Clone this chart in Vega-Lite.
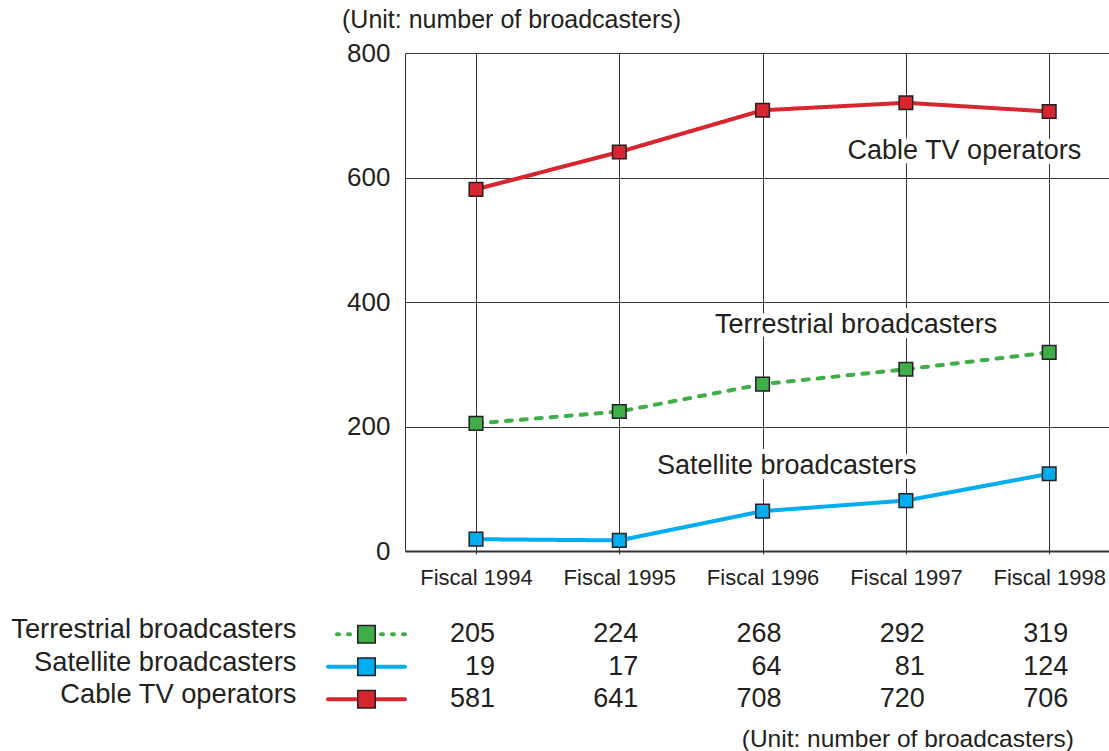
{
  "$schema": "https://vega.github.io/schema/vega-lite/v6.json",
  "padding": {"left": 10, "top": 8, "right": 0, "bottom": 0},
  "datasets": {
    "main": [
      {"year": "Fiscal 1994", "series": "Terrestrial broadcasters", "value": 205},
      {"year": "Fiscal 1995", "series": "Terrestrial broadcasters", "value": 224},
      {"year": "Fiscal 1996", "series": "Terrestrial broadcasters", "value": 268},
      {"year": "Fiscal 1997", "series": "Terrestrial broadcasters", "value": 292},
      {"year": "Fiscal 1998", "series": "Terrestrial broadcasters", "value": 319},
      {"year": "Fiscal 1994", "series": "Satellite broadcasters", "value": 19},
      {"year": "Fiscal 1995", "series": "Satellite broadcasters", "value": 17},
      {"year": "Fiscal 1996", "series": "Satellite broadcasters", "value": 64},
      {"year": "Fiscal 1997", "series": "Satellite broadcasters", "value": 81},
      {"year": "Fiscal 1998", "series": "Satellite broadcasters", "value": 124},
      {"year": "Fiscal 1994", "series": "Cable TV operators", "value": 581},
      {"year": "Fiscal 1995", "series": "Cable TV operators", "value": 641},
      {"year": "Fiscal 1996", "series": "Cable TV operators", "value": 708},
      {"year": "Fiscal 1997", "series": "Cable TV operators", "value": 720},
      {"year": "Fiscal 1998", "series": "Cable TV operators", "value": 706}
    ]
  },
  "columns": 2,
  "align": "each",
  "bounds": "flush",
  "spacing": {"row": 67, "column": 0},
  "resolve": {"scale": {"x": "independent", "y": "independent", "color": "independent", "fill": "independent", "strokeDash": "independent"}},
  "config": {
    "view": {"stroke": null},
    "font": "Liberation Sans",
    "axis": {"labelFont": "Liberation Sans", "titleFont": "Liberation Sans"},
    "title": {"font": "Liberation Sans", "fontWeight": "normal", "color": "#231f20"},
    "text": {"font": "Liberation Sans"}
  },
  "concat": [
    {
      "width": 77,
      "height": 10,
      "data": {"values": []},
      "mark": "point"
    },
    {
      "width": 704,
      "height": 498,
      "data": {"name": "main"},
      "title": {"text": "(Unit: number of broadcasters)", "anchor": "start", "frame": "group", "dx": -63, "fontSize": 25, "offset": 7},
      "encoding": {
        "x": {
          "field": "year", "type": "ordinal",
          "scale": {"type": "point", "padding": 0.4564, "align": 0.5428},
          "axis": {"title": null, "grid": true, "gridColor": "#333333", "gridWidth": 1, "domain": true, "domainColor": "#333333", "domainWidth": 2, "ticks": true, "tickSize": 3, "tickColor": "#333333", "tickWidth": 1, "labelFontSize": 22, "labelColor": "#231f20", "labelPadding": 13, "labelAngle": 0}
        },
        "y": {
          "field": "value", "type": "quantitative",
          "scale": {"domain": [0, 800], "nice": false},
          "axis": {"title": null, "values": [0, 200, 400, 600, 800], "grid": true, "gridColor": "#333333", "gridWidth": 1, "domain": true, "domainColor": "#333333", "domainWidth": 1, "ticks": false, "labelFontSize": 26, "labelColor": "#231f20", "labelPadding": 15}
        }
      },
      "layer": [
        {
          "transform": [{"filter": "datum.series === 'Cable TV operators' && datum.year === 'Fiscal 1998'"}],
          "mark": {"type": "text", "align": "right", "baseline": "alphabetic", "dx": 32, "dy": 47.5, "fontSize": 27, "color": "white", "stroke": "white", "strokeWidth": 10, "strokeJoin": "round"},
          "encoding": {"text": {"field": "series"}}
        },
        {
          "transform": [{"filter": "datum.series === 'Terrestrial broadcasters' && datum.year === 'Fiscal 1998'"}],
          "mark": {"type": "text", "align": "right", "baseline": "alphabetic", "dx": -52, "dy": -19.7, "fontSize": 27, "color": "white", "stroke": "white", "strokeWidth": 10, "strokeJoin": "round"},
          "encoding": {"text": {"field": "series"}}
        },
        {
          "transform": [{"filter": "datum.series === 'Satellite broadcasters' && datum.year === 'Fiscal 1998'"}],
          "mark": {"type": "text", "align": "right", "baseline": "alphabetic", "dx": -132.6, "dy": 0.5, "fontSize": 27, "color": "white", "stroke": "white", "strokeWidth": 10, "strokeJoin": "round"},
          "encoding": {"text": {"field": "series"}}
        },
        {
          "transform": [{"filter": "datum.series === 'Cable TV operators' && datum.year === 'Fiscal 1998'"}],
          "mark": {"type": "text", "align": "right", "baseline": "alphabetic", "dx": 32, "dy": 47.5, "fontSize": 27, "color": "#231f20"},
          "encoding": {"text": {"field": "series"}}
        },
        {
          "transform": [{"filter": "datum.series === 'Terrestrial broadcasters' && datum.year === 'Fiscal 1998'"}],
          "mark": {"type": "text", "align": "right", "baseline": "alphabetic", "dx": -52, "dy": -19.7, "fontSize": 27, "color": "#231f20"},
          "encoding": {"text": {"field": "series"}}
        },
        {
          "transform": [{"filter": "datum.series === 'Satellite broadcasters' && datum.year === 'Fiscal 1998'"}],
          "mark": {"type": "text", "align": "right", "baseline": "alphabetic", "dx": -132.6, "dy": 0.5, "fontSize": 27, "color": "#231f20"},
          "encoding": {"text": {"field": "series"}}
        },
        {
          "mark": {"type": "line", "strokeWidth": 4, "strokeCap": "round"},
          "encoding": {
            "color": {"field": "series", "type": "nominal", "scale": {"domain": ["Terrestrial broadcasters", "Satellite broadcasters", "Cable TV operators"], "range": ["#3fae49", "#00aeef", "#d7262f"]}, "legend": null},
            "strokeDash": {"field": "series", "type": "nominal", "scale": {"domain": ["Terrestrial broadcasters", "Satellite broadcasters", "Cable TV operators"], "range": [[6, 9], [1, 0], [1, 0]]}, "legend": null}
          }
        },
        {
          "mark": {"type": "point", "shape": "square", "filled": true, "size": 185, "stroke": "#231f20", "strokeWidth": 1.5, "opacity": 1},
          "encoding": {
            "fill": {"field": "series", "type": "nominal", "scale": {"domain": ["Terrestrial broadcasters", "Satellite broadcasters", "Cable TV operators"], "range": ["#3fae49", "#00aeef", "#d7262f"]}, "legend": null}
          }
        }
      ]
    },
    {
      "width": 77,
      "height": 97.5,
      "data": {"name": "main"},
      "transform": [{"filter": "datum.year === 'Fiscal 1994'"}],
      "encoding": {
        "y": {
          "field": "series", "type": "nominal",
          "sort": ["Terrestrial broadcasters", "Satellite broadcasters", "Cable TV operators"],
          "scale": {"type": "band", "paddingInner": 0, "paddingOuter": 0},
          "axis": {"title": null, "domain": false, "ticks": false, "grid": false, "labelFontSize": 27.3, "labelPadding": 32, "labelOffset": -4, "labelColor": "#231f20", "labelLimit": 0}
        }
      },
      "layer": [
        {
          "mark": {"type": "rule", "strokeWidth": 4, "strokeCap": "round"},
          "encoding": {
            "color": {"field": "series", "type": "nominal", "scale": {"domain": ["Terrestrial broadcasters", "Satellite broadcasters", "Cable TV operators"], "range": ["#3fae49", "#00aeef", "#d7262f"]}, "legend": null},
            "strokeDash": {"field": "series", "type": "nominal", "scale": {"domain": ["Terrestrial broadcasters", "Satellite broadcasters", "Cable TV operators"], "range": [[2, 9], [1, 0], [1, 0]]}, "legend": null}
          }
        },
        {
          "mark": {"type": "point", "shape": "square", "filled": true, "size": 306, "stroke": "#231f20", "strokeWidth": 1.5, "opacity": 1},
          "encoding": {
            "fill": {"field": "series", "type": "nominal", "scale": {"domain": ["Terrestrial broadcasters", "Satellite broadcasters", "Cable TV operators"], "range": ["#3fae49", "#00aeef", "#d7262f"]}, "legend": null}
          }
        }
      ]
    },
    {
      "width": 704,
      "height": 97.5,
      "data": {"name": "main"},
      "title": {"text": "(Unit: number of broadcasters)", "orient": "bottom", "anchor": "end", "frame": "group", "dx": -35, "fontSize": 24.5, "offset": 12},
      "mark": {"type": "text", "align": "right", "dx": 19, "fontSize": 27, "color": "#231f20"},
      "encoding": {
        "x": {"field": "year", "type": "ordinal", "scale": {"type": "point", "padding": 0.4564, "align": 0.5428}, "axis": null},
        "y": {"field": "series", "type": "nominal", "sort": ["Terrestrial broadcasters", "Satellite broadcasters", "Cable TV operators"], "scale": {"type": "band", "paddingInner": 0, "paddingOuter": 0}, "axis": null},
        "text": {"field": "value", "type": "quantitative"}
      }
    }
  ]
}
